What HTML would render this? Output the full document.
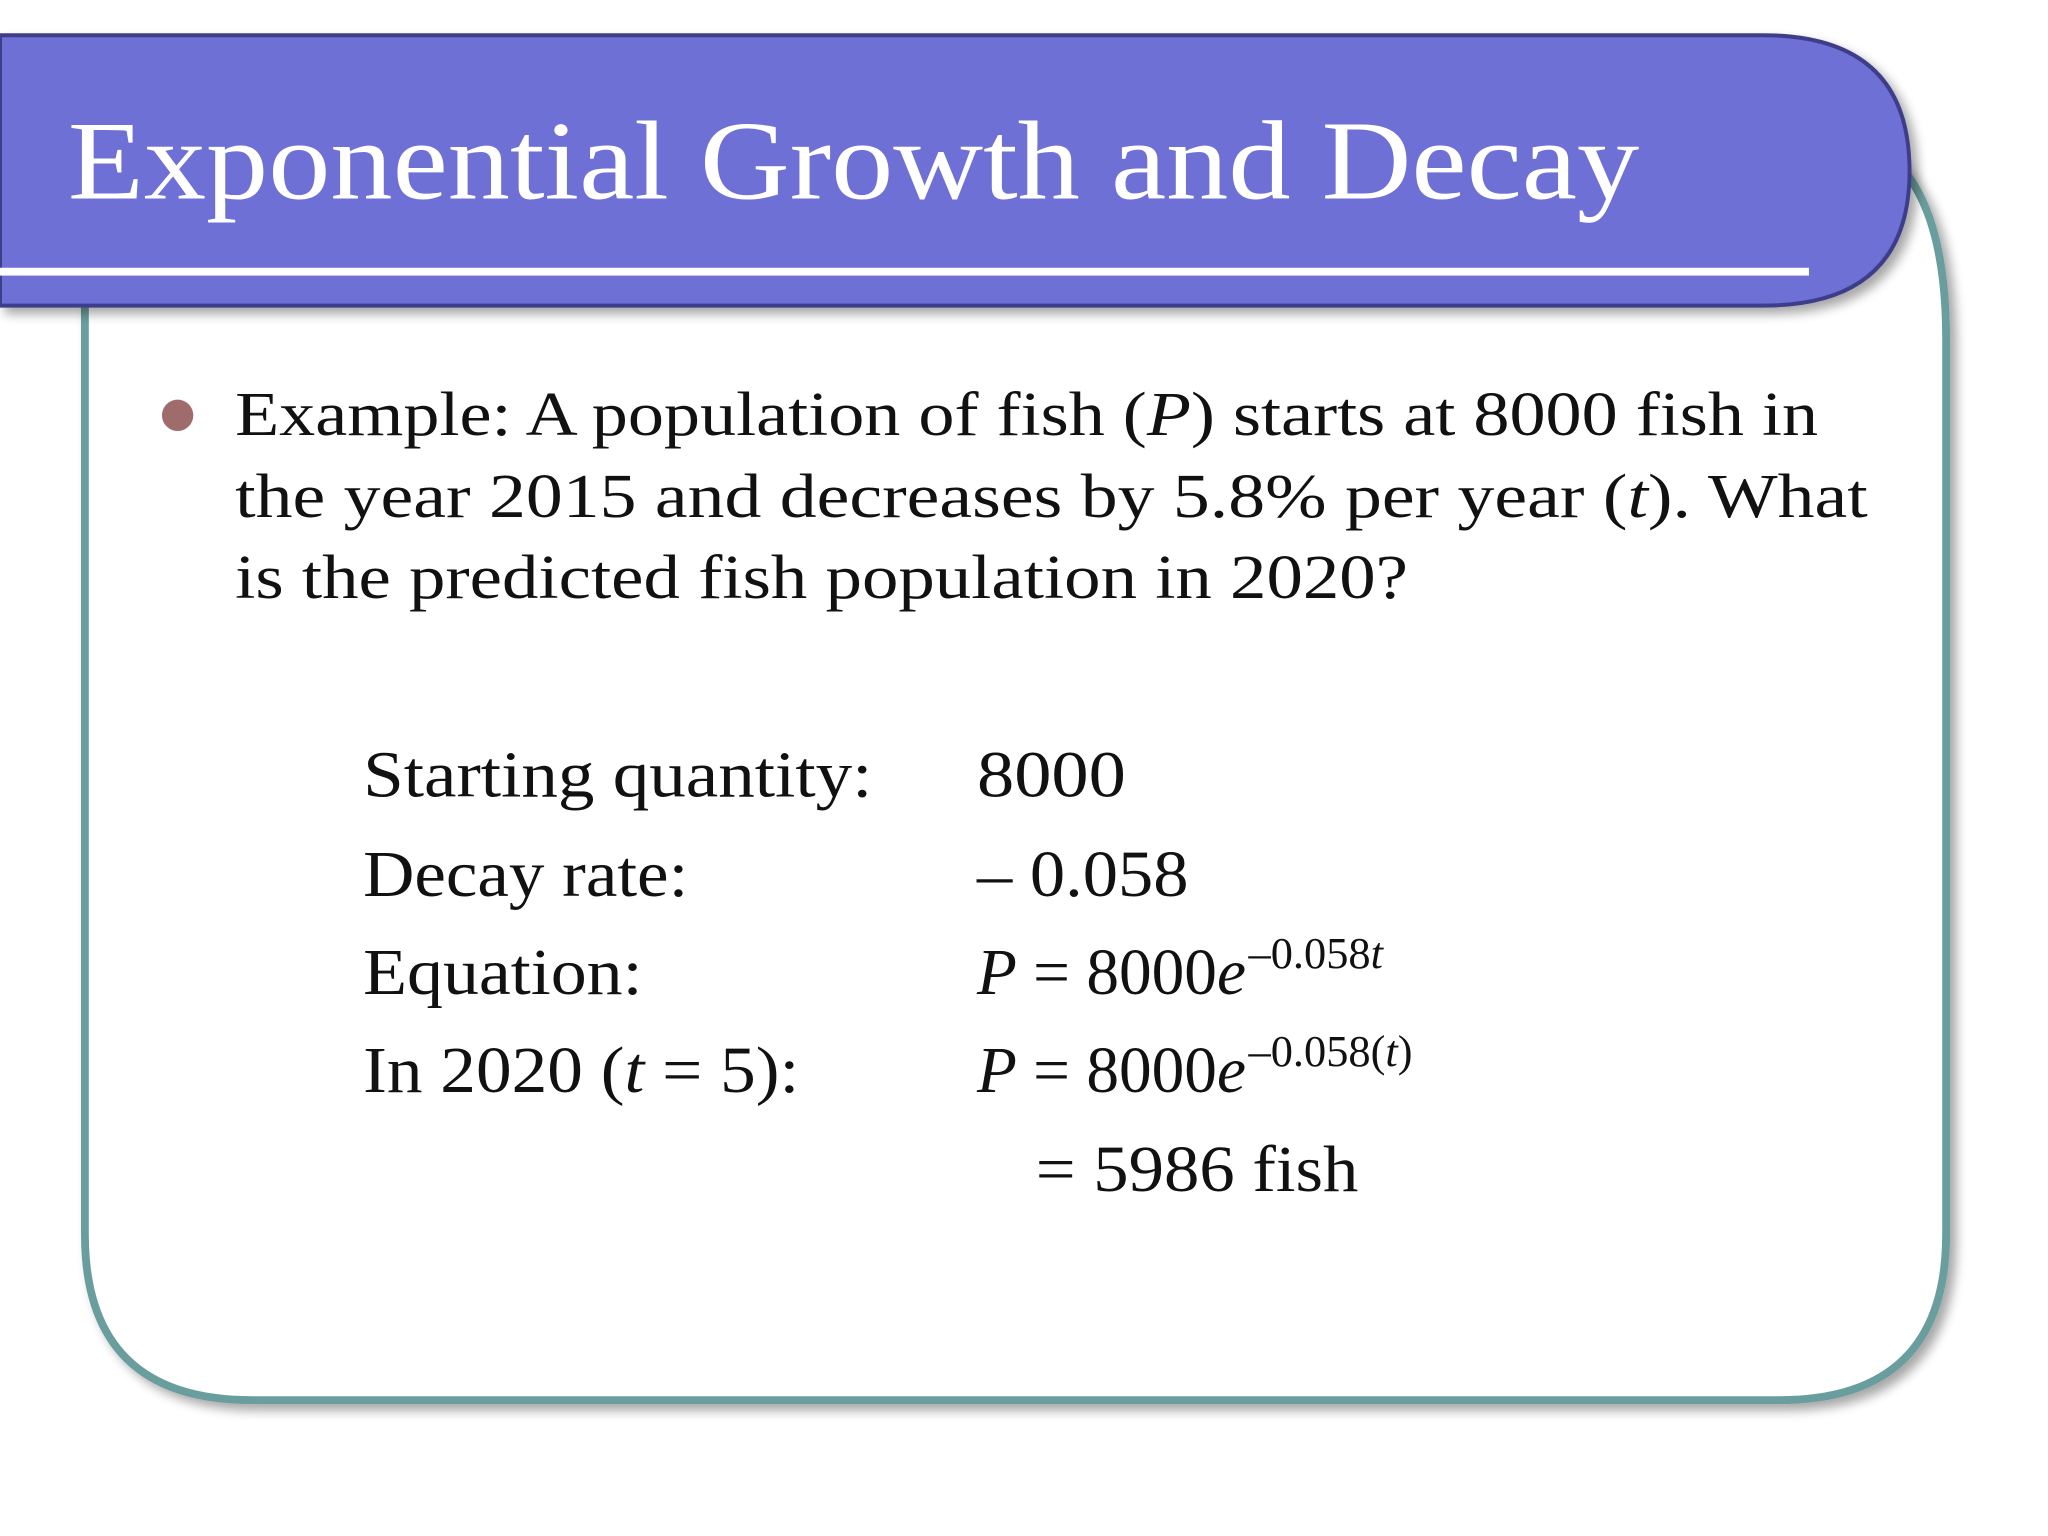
<!DOCTYPE html>
<html><head><meta charset="utf-8"><style>
html,body{margin:0;padding:0;background:#fff;}
svg{display:block;}
text{font-family:"Liberation Serif",serif;}
</style></head><body>
<svg width="2048" height="1536" viewBox="0 0 1568 1176" xmlns="http://www.w3.org/2000/svg">
<defs>
<filter id="sh" x="-5%" y="-5%" width="115%" height="115%"><feGaussianBlur in="SourceAlpha" stdDeviation="4"/><feOffset dx="5" dy="5"/><feComponentTransfer><feFuncA type="linear" slope="0.35"/></feComponentTransfer><feMerge><feMergeNode/><feMergeNode in="SourceGraphic"/></feMerge></filter>
</defs>
<path d="M65,100 L1400,100 Q1490,110 1490,260 L1490,945 Q1490,1072 1362,1072 L193,1072 Q65,1072 65,945 Z" fill="#fff" stroke="#6a9e9e" stroke-width="6" filter="url(#sh)"/>
<path d="M0,27 L1350,27 Q1462,27 1462,131 Q1462,234 1350,234 L0,234 Z" fill="#6e6fd6" stroke="#3d3e8a" stroke-width="3" filter="url(#sh)"/>
<rect x="0" y="205" width="1385" height="6" fill="#fff"/>
<text x="52" y="152" font-size="86" fill="#fff" textLength="1203" lengthAdjust="spacingAndGlyphs">Exponential Growth and Decay</text>
<circle cx="136" cy="318" r="12" fill="#a06b6b"/>
<g font-size="48" fill="#111">
<text x="180" y="333" textLength="1212" lengthAdjust="spacingAndGlyphs">Example:  A population of fish (<tspan font-style="italic">P</tspan>) starts at 8000 fish in</text>
<text x="180" y="396" textLength="1250" lengthAdjust="spacingAndGlyphs">the year 2015 and decreases by 5.8% per year (<tspan font-style="italic">t</tspan>).  What</text>
<text x="180" y="458" textLength="898" lengthAdjust="spacingAndGlyphs">is the predicted fish population in 2020?</text>
</g>
<g font-size="50" fill="#111">
<text x="278" y="610" textLength="390" lengthAdjust="spacingAndGlyphs">Starting quantity:</text>
<text x="748" y="610" textLength="114" lengthAdjust="spacingAndGlyphs">8000</text>
<text x="278" y="686" textLength="249" lengthAdjust="spacingAndGlyphs">Decay rate:</text>
<text x="748" y="686" textLength="162" lengthAdjust="spacingAndGlyphs">– 0.058</text>
<text x="278" y="761" textLength="214" lengthAdjust="spacingAndGlyphs">Equation:</text>
<text x="748" y="761"><tspan font-style="italic">P</tspan> = 8000<tspan font-style="italic">e</tspan><tspan font-size="34" dy="-20" dx="2">–0.058<tspan font-style="italic">t</tspan></tspan></text>
<text x="278" y="836" textLength="334" lengthAdjust="spacingAndGlyphs">In 2020 (<tspan font-style="italic">t</tspan> = 5):</text>
<text x="748" y="836"><tspan font-style="italic">P</tspan> = 8000<tspan font-style="italic">e</tspan><tspan font-size="34" dy="-20" dx="2">–0.058(<tspan font-style="italic">t</tspan>)</tspan></text>
<text x="793" y="912" textLength="247" lengthAdjust="spacingAndGlyphs">= 5986 fish</text>
</g>
</svg>
</body></html>
